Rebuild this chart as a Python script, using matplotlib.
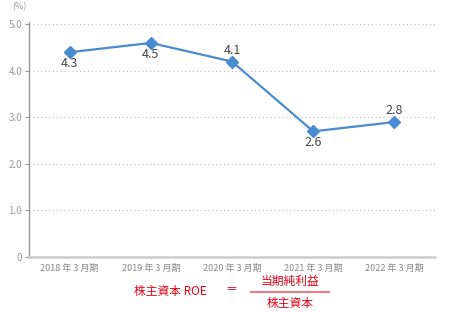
import matplotlib
matplotlib.use("Agg")
import matplotlib.pyplot as plt
from matplotlib.lines import Line2D

plt.rcParams['font.family'] = ['Noto Sans CJK JP', 'DejaVu Sans']

years = ["2018 年 3 月期", "2019 年 3 月期", "2020 年 3 月期", "2021 年 3 月期", "2022 年 3 月期"]
roe_pos = [4.4, 4.6, 4.2, 2.7, 2.9]      # where the markers sit
roe_labels = ["4.3", "4.5", "4.1", "2.6", "2.8"]
label_above = [False, False, True, False, True]
yticks = [0, 1, 2, 3, 4, 5]
ytick_labels = ["0", "1.0", "2.0", "3.0", "4.0", "5.0"]

fig = plt.figure(figsize=(4.59, 3.12), dpi=100)
ax = fig.add_axes([29 / 459, 1 - 257 / 312, 406 / 459, (257 - 22) / 312])

x = list(range(len(years)))
ax.plot(x, roe_pos, color="#4a8bd0", lw=1.6, marker="D", ms=6, zorder=3)

for i, v in enumerate(roe_pos):
    dy = 3.5 if label_above[i] else -3.5
    ax.annotate(roe_labels[i], (i, v), xytext=(0, dy), textcoords="offset points",
                ha="center", va="bottom" if label_above[i] else "top",
                fontsize=9, color="#444444")

ax.set_xlim(-0.5, len(years) - 0.5)
ax.set_ylim(0, 5.05)
ax.set_yticks(yticks)
ax.set_yticklabels(ytick_labels)
ax.set_xticks(x)
ax.set_xticklabels(years)

for y in yticks[1:]:
    ax.axhline(y, color="#bbbbbb", lw=0.8, ls=(0, (1, 2.5)), zorder=1)

for s in ["top", "right"]:
    ax.spines[s].set_visible(False)
ax.spines["left"].set_color("#999999")
ax.spines["left"].set_linewidth(1.0)
ax.spines["bottom"].set_color("#cccccc")
ax.spines["bottom"].set_linewidth(1.8)

ax.tick_params(axis="y", length=3, color="#999999", labelcolor="#999999", labelsize=7, pad=2)
ax.tick_params(axis="x", length=0, labelcolor="#888888", labelsize=6.5, pad=5)

fig.text(12 / 459, 1 - 7 / 312, "(%)", fontsize=6.5, color="#999999", va="center")

red = "#e60012"
fig.text(170 / 459, 1 - 291 / 312, "株主資本 ROE", fontsize=8.5, color=red, ha="center", va="center")
fig.text(231 / 459, 1 - 290 / 312, "＝", fontsize=8.5, color=red, ha="center", va="center")
fig.text(290 / 459, 1 - 281 / 312, "当期純利益", fontsize=8.5, color=red, ha="center", va="center")
fig.add_artist(Line2D([251 / 459, 329 / 459], [1 - 292 / 312, 1 - 292 / 312],
                      transform=fig.transFigure, color="#ee7b85", lw=1.5))
fig.text(290 / 459, 1 - 303 / 312, "株主資本", fontsize=8.5, color=red, ha="center", va="center")

fig.savefig("out.png", dpi=100)
